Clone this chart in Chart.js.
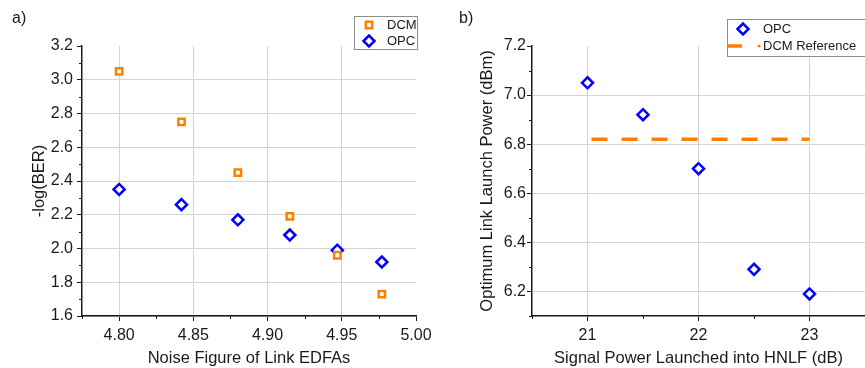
<!DOCTYPE html>
<html>
<head>
<meta charset="utf-8">
<script src="https://cdn.jsdelivr.net/npm/chart.js@4/dist/chart.umd.min.js"></script>
<style>
  body { margin: 0; background: #fff; font-family: "Liberation Sans", Arial, sans-serif; }
  #wrap { position: relative; width: 865px; height: 368px; overflow: hidden; }
  canvas { position: absolute; top: 0; }
  .tag { position: absolute; font-size: 16px; line-height: 20px; color: #1a1a1a; }
</style>
</head>
<body>
<div id="wrap">
  <canvas id="graphA" width="432" height="368" style="left:0"></canvas>
  <canvas id="graphB" width="433" height="368" style="left:432px"></canvas>
  <div class="tag" style="left:12px;top:8px">a)</div>
  <div class="tag" style="left:459px;top:8px">b)</div>
</div>
<script>
// panel a) -log(BER) vs noise figure
const noiseFigure = [4.800, 4.842, 4.880, 4.915, 4.947, 4.977];
const berDcm = [3.05, 2.75, 2.45, 2.19, 1.96, 1.73];
const berOpc = [2.35, 2.26, 2.17, 2.08, 1.99, 1.92];
const ticksNF = [4.80, 4.85, 4.90, 4.95, 5.00];
const ticksBer = [1.6, 1.8, 2.0, 2.2, 2.4, 2.6, 2.8, 3.0, 3.2];

// panel b) optimum launch power vs HNLF signal power
const hnlfPower = [21, 21.5, 22, 22.5, 23];
const launchOpc = [7.05, 6.92, 6.70, 6.29, 6.19];
const dcmRefX = [21, 23];
const dcmRefY = [6.82, 6.82];
const ticksHnlf = [21, 22, 23];
const ticksLaunch = [6.2, 6.4, 6.6, 6.8, 7.0, 7.2];

const ORANGE = '#ff8000';
const BLUE = '#0000ff';
const GRID = '#d4d4d4';
const INK = '#1a1a1a';
const FONT = '"Liberation Sans", Arial, sans-serif';

const fixTicks = (list) => (s) => { s.ticks = list.map((v) => ({ value: v })); };

// minor ticks halfway between the major ones, drawn outside the axis
const minorTicks = {
  id: 'minorTicks',
  afterDraw(chart) {
    const ctx = chart.ctx;
    ctx.save();
    ctx.strokeStyle = INK;
    ctx.lineWidth = 1;
    Object.values(chart.scales).forEach((s) => {
      const vals = s.ticks.map((t) => t.value);
      const step = vals[1] - vals[0];
      const mids = [];
      for (let v = vals[0] - step / 2; v <= s.max + 1e-9; v += step) {
        if (v >= s.min - 1e-9) mids.push(v);
      }
      mids.forEach((v) => {
        const p = Math.round(s.getPixelForValue(v)) + 0.5;
        ctx.beginPath();
        if (s.isHorizontal()) {
          ctx.moveTo(p, chart.chartArea.bottom);
          ctx.lineTo(p, chart.chartArea.bottom + 3);
        } else {
          ctx.moveTo(chart.chartArea.left, p);
          ctx.lineTo(chart.chartArea.left - 3, p);
        }
        ctx.stroke();
      });
    });
    ctx.restore();
  }
};

// boxed legend drawn inside the canvas
const boxLegend = {
  id: 'boxLegend',
  afterDraw(chart, args, opts) {
    if (!opts.box) return;
    const ctx = chart.ctx;
    const b = opts.box;
    ctx.save();
    ctx.fillStyle = '#fff';
    ctx.fillRect(b.x, b.y, b.w, b.h);
    ctx.strokeStyle = '#8c8c8c';
    ctx.lineWidth = 1;
    ctx.strokeRect(b.x + 0.5, b.y + 0.5, b.w, b.h);
    ctx.font = '13px ' + FONT;
    ctx.textBaseline = 'middle';
    opts.items.forEach((it) => {
      if (it.line) {
        ctx.strokeStyle = it.color;
        ctx.lineWidth = 3.5;
        ctx.beginPath();
        ctx.moveTo(it.mx - 16, it.y);
        ctx.lineTo(it.mx - 1, it.y);
        ctx.stroke();
        ctx.fillStyle = it.color;
        ctx.beginPath();
        ctx.arc(it.mx + 16, it.y, 1.6, 0, Math.PI * 2);
        ctx.fill();
      } else {
        ctx.fillStyle = '#fff';
        ctx.strokeStyle = it.color;
        ctx.lineWidth = 2.5;
        Chart.helpers.drawPoint(ctx, { pointStyle: it.style, radius: it.r, rotation: 0, borderWidth: 2.5 }, it.mx, it.y);
      }
      ctx.fillStyle = INK;
      ctx.fillText(it.text, it.tx, it.y + 0.5);
    });
    ctx.restore();
  }
};

const axisX = (min, max, ticks, fmt, title) => ({
  type: 'linear',
  min: min,
  max: max,
  afterBuildTicks: fixTicks(ticks),
  afterFit: (s) => { s.height = 52; s.paddingLeft = 0; s.paddingRight = 0; },
  grid: {
    color: (c) => (c.tick && c.tick.value === max ? 'transparent' : GRID),
    tickColor: INK,
    tickLength: 5,
  },
  border: { color: INK, width: 1.5 },
  ticks: { color: INK, font: { family: FONT, size: 16 }, padding: 5, maxRotation: 0, callback: fmt },
  title: { display: true, text: title, color: INK, font: { family: FONT, size: 16.5 }, padding: { top: 0, bottom: 0 } },
});

const axisY = (min, max, ticks, width, titlePad, tickPad, title) => ({
  type: 'linear',
  min: min,
  max: max,
  afterBuildTicks: fixTicks(ticks),
  afterFit: (s) => { s.width = width; s.paddingTop = 0; s.paddingBottom = 0; },
  grid: {
    color: (c) => (c.tick && c.tick.value === max ? 'transparent' : GRID),
    tickColor: INK,
    tickLength: 5,
  },
  border: { color: INK, width: 1.5 },
  ticks: { color: INK, font: { family: FONT, size: 16 }, padding: tickPad, callback: (v) => v.toFixed(1) },
  title: { display: true, text: title, color: INK, font: { family: FONT, size: 16.5 }, padding: { top: titlePad, bottom: 0 } },
});

new Chart(document.getElementById('graphA').getContext('2d'), {
  type: 'scatter',
  data: {
    datasets: [
      {
        label: 'DCM',
        data: noiseFigure.map((x, i) => ({ x: x, y: berDcm[i] })),
        pointStyle: 'rect',
        pointRadius: 4.5,
        pointBorderWidth: 2.5,
        borderColor: ORANGE,
        backgroundColor: '#fff',
      },
      {
        label: 'OPC',
        data: noiseFigure.map((x, i) => ({ x: x, y: berOpc[i] })),
        pointStyle: 'rectRot',
        pointRadius: 5.5,
        pointBorderWidth: 2.5,
        borderColor: BLUE,
        backgroundColor: '#fff',
      },
    ],
  },
  options: {
    responsive: false,
    animation: false,
    layout: { autoPadding: false, padding: { top: 46, right: 16, left: 0, bottom: 0 } },
    scales: {
      x: axisX(4.775, 5.0, ticksNF, (v) => v.toFixed(2), 'Noise Figure of Link EDFAs'),
      y: axisY(1.6, 3.2, ticksBer, 82, 30, 4, '-log(BER)'),
    },
    plugins: {
      legend: { display: false },
      tooltip: { enabled: false },
      boxLegend: {
        box: { x: 354, y: 16, w: 63, h: 33 },
        items: [
          { text: 'DCM', color: ORANGE, style: 'rect', r: 4.5, mx: 369, tx: 387, y: 25 },
          { text: 'OPC', color: BLUE, style: 'rectRot', r: 5.5, mx: 369, tx: 387, y: 41 },
        ],
      },
    },
  },
  plugins: [minorTicks, boxLegend],
});

new Chart(document.getElementById('graphB').getContext('2d'), {
  type: 'scatter',
  data: {
    datasets: [
      {
        label: 'OPC',
        data: hnlfPower.map((x, i) => ({ x: x, y: launchOpc[i] })),
        pointStyle: 'rectRot',
        pointRadius: 5.5,
        pointBorderWidth: 2.5,
        borderColor: BLUE,
        backgroundColor: '#fff',
      },
      {
        label: 'DCM Reference',
        type: 'line',
        data: dcmRefX.map((x, i) => ({ x: x, y: dcmRefY[i] })),
        borderColor: ORANGE,
        borderWidth: 3.5,
        borderDash: [16, 14],
        borderDashOffset: 26,
        pointRadius: 0,
        fill: false,
      },
    ],
  },
  options: {
    responsive: false,
    animation: false,
    layout: { autoPadding: false, padding: { top: 46, right: 0, left: 0, bottom: 0 } },
    scales: {
      x: axisX(20.5, 23.5, ticksHnlf, (v) => String(v), 'Signal Power Launched into HNLF (dB)'),
      y: axisY(6.1, 7.2, ticksLaunch, 100, 46, 1, 'Optimum Link Launch Power (dBm)'),
    },
    plugins: {
      legend: { display: false },
      tooltip: { enabled: false },
      boxLegend: {
        box: { x: 295, y: 19, w: 150, h: 37 },
        items: [
          { text: 'OPC', color: BLUE, style: 'rectRot', r: 5.5, mx: 311, tx: 331, y: 29 },
          { text: 'DCM Reference', color: ORANGE, line: true, mx: 311, tx: 331, y: 46 },
        ],
      },
    },
  },
  plugins: [minorTicks, boxLegend],
});
</script>
</body>
</html>
